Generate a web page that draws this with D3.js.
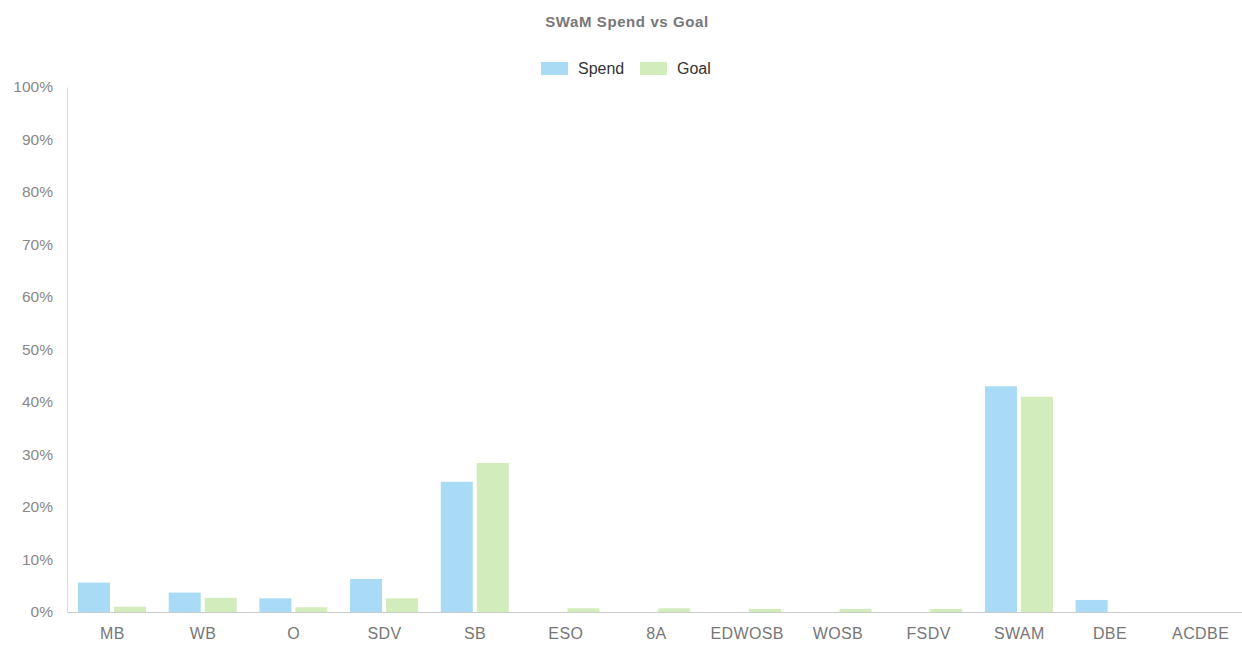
<!DOCTYPE html>
<html lang='en'>
<head>
<meta charset='utf8'>
<title>SWaM Spend vs Goal</title>
<script type="text/javascript" src="https://cdn.jsdelivr.net/npm/d3@7"></script>
<style>
    body { margin: 0; background: #fff; }
    svg { display: block; font-family: 'Liberation Sans', Arial, sans-serif; }
</style>
</head>
<body>
<div id='chart'></div>
<script type="text/javascript">
    var categories = ['MB', 'WB', 'O', 'SDV', 'SB', 'ESO', '8A', 'EDWOSB', 'WOSB', 'FSDV', 'SWAM', 'DBE', 'ACDBE'];
    var spend = [5.6, 3.7, 2.6, 6.3, 24.8, 0, 0, 0, 0, 0, 43.0, 2.3, 0];
    var goal = [1.0, 2.7, 0.9, 2.6, 28.4, 0.7, 0.7, 0.6, 0.6, 0.6, 41.0, 0, 0];
    var series = ['Spend', 'Goal'];
    var colors = ['#a9dbf6', '#d3ecbb'];
    var yTicks = [0, 10, 20, 30, 40, 50, 60, 70, 80, 90, 100];

    var width = 1242, height = 648;
    var svg = d3.select('#chart').append('svg')
        .attr('width', width)
        .attr('height', height);

    var x = d3.scaleBand().domain(categories).range([67, 1246]);
    var xs = d3.scaleBand().domain(series).range([11, 79]).paddingInner(0.11);
    var y = d3.scaleLinear().domain([0, 100]).range([612, 87]);

    // title
    svg.append('text')
        .attr('x', 627).attr('y', 27)
        .attr('text-anchor', 'middle')
        .attr('font-size', 15)
        .attr('font-weight', 'bold')
        .attr('letter-spacing', 0.6)
        .attr('fill', '#777')
        .text('SWaM Spend vs Goal');

    // legend
    var leg = svg.append('g');
    var legX = [541, 640];
    series.forEach(function(s, i) {
        leg.append('rect')
            .attr('x', legX[i]).attr('y', 62)
            .attr('width', 27).attr('height', 13)
            .attr('fill', colors[i]);
        leg.append('text')
            .attr('x', legX[i] + 37).attr('y', 74)
            .attr('font-size', 16)
            .attr('fill', '#333')
            .text(s);
    });

    // y axis
    var yAxis = svg.append('g')
        .attr('transform', 'translate(67,0)')
        .call(d3.axisLeft(y).tickValues(yTicks).tickSize(0).tickPadding(14)
            .tickFormat(function(d) { return d + '%'; }));
    yAxis.select('.domain').attr('stroke', '#ddd');
    yAxis.selectAll('text').attr('font-size', 15.5).attr('fill', '#888')
        .style('font-family', "'Liberation Sans', Arial, sans-serif");

    // x axis
    var xAxis = svg.append('g')
        .attr('transform', 'translate(0,612)')
        .call(d3.axisBottom(x).tickSize(0).tickPadding(16));
    xAxis.select('.domain').attr('stroke', '#ccc');
    xAxis.selectAll('text').attr('font-size', 16).attr('fill', '#777')
        .attr('letter-spacing', 0.4)
        .style('font-family', "'Liberation Sans', Arial, sans-serif");

    // bars
    var data = [spend, goal];
    var groups = svg.append('g').selectAll('g')
        .data(categories)
        .enter().append('g')
        .attr('transform', function(d) { return 'translate(' + x(d) + ',0)'; });

    groups.selectAll('rect')
        .data(function(d, i) {
            return series.map(function(s, j) { return { key: s, idx: j, value: data[j][i] }; });
        })
        .enter().append('rect')
        .attr('x', function(d) { return xs(d.key); })
        .attr('width', xs.bandwidth())
        .attr('y', function(d) { return y(d.value); })
        .attr('height', function(d) { return y(0) - y(d.value); })
        .attr('fill', function(d) { return colors[d.idx]; });
</script>
</body>
</html>
